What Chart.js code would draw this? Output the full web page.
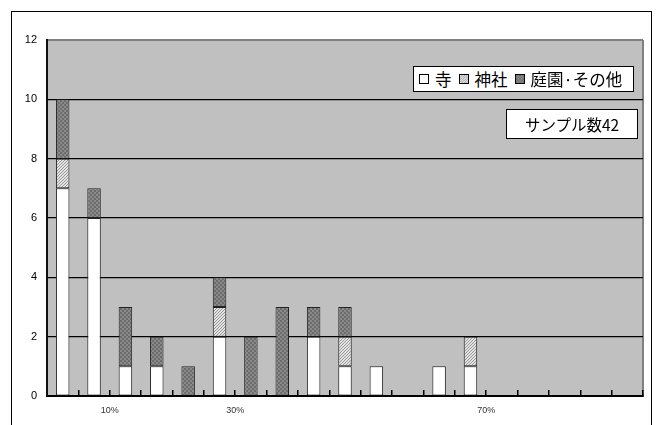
<!DOCTYPE html>
<html>
<head>
<meta charset="utf-8">
<script src="https://cdn.jsdelivr.net/npm/chart.js@4"></script>
<style>
html,body{margin:0;padding:0;background:#fff;}
#wrap{position:relative;width:661px;height:425px;overflow:hidden;}
#frame{position:absolute;left:11px;top:11px;width:641px;height:440px;border:1.5px solid #000;box-sizing:border-box;pointer-events:none;}
#c{position:absolute;left:0;top:0;}
#legend{position:absolute;left:413px;top:66px;width:221px;height:26px;background:#fff;border:1px solid #000;box-sizing:border-box;
  font-family:"Noto Sans CJK JP","Noto Sans CJK SC",sans-serif;font-size:16.5px;line-height:24px;color:#000;display:flex;align-items:center;padding-left:5px;white-space:nowrap;}
#legend .item{display:flex;align-items:center;margin-right:7px;}
#legend canvas{width:10px;height:10px;box-sizing:border-box;border:1px solid #000;margin-right:6px;display:block;}
#note{position:absolute;left:506px;top:109px;width:132px;height:30px;background:#fff;border:1px solid #000;box-sizing:border-box;
  font-family:"Noto Sans CJK JP","Noto Sans CJK SC",sans-serif;font-size:15.5px;line-height:28px;text-align:center;color:#000;}
</style>
</head>
<body>
<div id="wrap">
  <canvas id="c" width="661" height="425"></canvas>
  <div id="frame"></div>
  <div id="legend"></div>
  <div id="note"></div>
</div>
<script>
// ---- data ----
const categories = ['0%','5%','10%','15%','20%','25%','30%','35%','40%','45%','50%','55%','60%','65%','70%','75%','80%','85%','90%'];
const shownTickLabels = ['10%','30%','70%'];
const seriesNames = ['寺','神社','庭園·その他'];
const tera  = [7,6,1,1,0,2,0,0,2,1,1,0,1,1,0,0,0,0,0];
const jinja = [1,0,0,0,0,1,0,0,0,1,0,0,0,1,0,0,0,0,0];
const teien = [2,1,2,1,1,1,2,3,1,1,0,0,0,0,0,0,0,0,0];
const yMax = 12, yStep = 2;
const sampleLabel = 'サンプル数';
const sampleCount = 42;

// ---- fills ----
function makeFill(kind, ctx){
  if (kind === 0) return '#ffffff';
  const c = document.createElement('canvas');
  if (kind === 1){
    c.width = 3; c.height = 3;
    const g = c.getContext('2d');
    g.fillStyle = '#e4e4e4'; g.fillRect(0,0,3,3);
    g.fillStyle = '#959595';
    for (let i=0;i<3;i++) g.fillRect(i,2-i,1,1);
  } else {
    c.width = 4; c.height = 4;
    const g = c.getContext('2d');
    g.fillStyle = '#8a8a8a'; g.fillRect(0,0,4,4);
    g.fillStyle = '#6c6c6c'; g.fillRect(0,0,2,2); g.fillRect(2,2,2,2);
  }
  return ctx.createPattern(c,'repeat');
}

const mainCtx = document.getElementById('c').getContext('2d');
const seriesData = [tera, jinja, teien];

const plotBg = {
  id:'plotBg',
  beforeDraw(chart){
    const {ctx, chartArea:a} = chart;
    ctx.save();
    ctx.fillStyle = '#c0c0c0';
    ctx.fillRect(a.left, a.top, a.width, a.height);
    ctx.strokeStyle = '#808080';
    ctx.lineWidth = 2;
    ctx.beginPath();
    ctx.moveTo(a.right, a.top);
    ctx.lineTo(a.right, a.bottom);
    ctx.stroke();
    ctx.restore();
  }
};

const chart = new Chart(mainCtx, {
  type:'bar',
  data:{
    labels: categories,
    datasets: seriesNames.map((name,i)=>({
      label: name,
      data: seriesData[i],
      backgroundColor: makeFill(i, mainCtx),
      borderColor: '#222',
      borderWidth: 1,
      borderSkipped: false,
      barPercentage: 0.43,
      categoryPercentage: 1.0
    }))
  },
  options:{
    responsive:false,
    animation:false,
    events:[],
    layout:{padding:{top:40,right:18,left:0,bottom:0}},
    plugins:{legend:{display:false},tooltip:{enabled:false}},
    scales:{
      x:{
        stacked:true,
        afterFit(s){ s.height = 29; },
        border:{display:true,color:'#000',width:2},
        grid:{offset:true,drawOnChartArea:false,drawTicks:true,tickLength:-6,color:'#000',lineWidth:1.5},
        ticks:{
          autoSkip:false,maxRotation:0,minRotation:0,
          padding:15,labelOffset:-15.7,
          color:'#333',
          font:{family:'"Liberation Sans", Arial, sans-serif',size:9},
          callback(v,i){ const l = categories[i]; return shownTickLabels.includes(l) ? l : ''; }
        }
      },
      y:{
        stacked:true,
        min:0,max:yMax,
        afterFit(s){ s.width = 47; },
        border:{display:true,color:'#111',width:2},
        grid:{drawTicks:false,color:(c)=> c.tick && c.tick.value===yMax ? '#808080' : '#000',lineWidth:(c)=> c.tick && c.tick.value===yMax ? 2 : 1.2},
        ticks:{stepSize:yStep,padding:10,color:'#000',font:{family:'"Liberation Sans", Arial, sans-serif',size:11}}
      }
    }
  },
  plugins:[plotBg]
});

// ---- HTML legend from the chart's datasets ----
const legend = document.getElementById('legend');
chart.data.datasets.forEach((ds,i)=>{
  const item = document.createElement('span');
  item.className = 'item';
  const sw = document.createElement('canvas');
  sw.width = 10; sw.height = 10;
  const sctx = sw.getContext('2d');
  sctx.fillStyle = makeFill(i, sctx);
  sctx.fillRect(0,0,10,10);
  const t = document.createElement('span');
  t.textContent = ds.label;
  item.appendChild(sw); item.appendChild(t);
  legend.appendChild(item);
});
document.getElementById('note').textContent = sampleLabel + sampleCount;
</script>
</body>
</html>
